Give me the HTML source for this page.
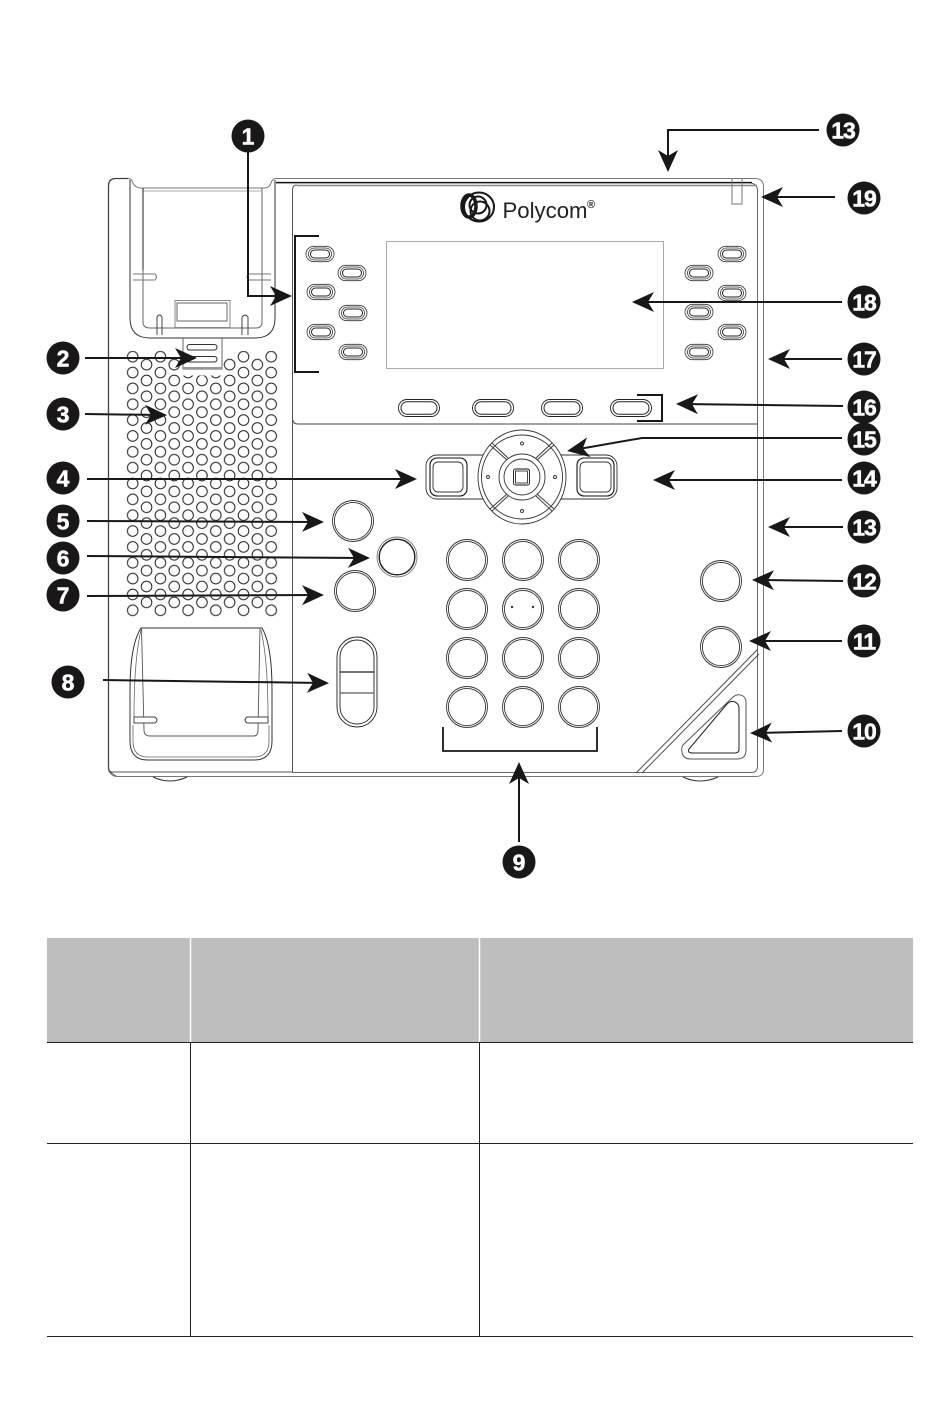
<!DOCTYPE html>
<html><head><meta charset="utf-8"><style>
html,body{margin:0;padding:0;background:#fff}
svg{display:block}
.b{fill:#1a1718}
.t{fill:#fff;font:bold 23px "Liberation Sans",sans-serif;text-anchor:middle;stroke:#fff;stroke-width:.5}
.a{fill:none;stroke:#1a1718;stroke-width:2;marker-end:url(#h)}
</style></head><body>
<svg width="950" height="1419" viewBox="0 0 950 1419" xmlns="http://www.w3.org/2000/svg">
<defs>
<marker id="h" markerUnits="userSpaceOnUse" markerWidth="26" markerHeight="22" refX="16" refY="10" orient="auto"><path d="M22,10 L0,0 L6,10 L0,20 Z" fill="#1a1718"/></marker>
<pattern id="p1" patternUnits="userSpaceOnUse" x="118.85" y="348.775" width="27.7" height="15.85"><circle cx="13.85" cy="7.925" r="5.3" fill="none" stroke="#222" stroke-width="1"/></pattern>
<pattern id="p2" patternUnits="userSpaceOnUse" x="132.7" y="356.7" width="27.7" height="15.85"><circle cx="13.85" cy="7.925" r="5.3" fill="none" stroke="#222" stroke-width="1"/></pattern>
<g id="k" fill="none" stroke="#333" stroke-width=".8"><rect x="-14" y="-7.7" width="28" height="15.4" rx="7.7"/><rect x="-11.5" y="-6" width="23" height="12" rx="6"/><rect x="-9.5" y="-4" width="19" height="8" rx="4" stroke="#222" stroke-width="1"/></g>
<g id="s" fill="none" stroke="#222" stroke-width=".9"><rect x="-20.5" y="-8.5" width="41" height="17" rx="8.5"/><rect x="-18" y="-6.3" width="36" height="12.6" rx="6.3" stroke-width="1"/></g>
<g id="c" fill="none" stroke="#333" stroke-width=".9"><circle r="20.5"/><circle r="18.6"/></g>
</defs>

<!-- speaker grille -->
<rect x="125" y="351" width="153" height="266" fill="url(#p1)"/>
<rect x="140" y="358.5" width="124" height="251" fill="url(#p2)"/>
<rect x="181" y="338" width="42" height="37.5" fill="#fff"/>

<!-- body -->
<g fill="none" stroke="#333" stroke-width="1">
<path d="M108.5,770 V186 Q108.5,178.5 116,178.5 H128 Q131.5,178.5 132.5,182 Q134,187 140,188 H265 Q270,187 271,183 Q272,179 276,178.5 H755 Q763.5,178.5 763.5,187 V769 Q763.5,776.5 756,776.5 H117 Q111,776.5 108.5,770 Z" stroke="#777"/>
<path d="M108.5,770 V186 Q108.5,178.5 116,178.5 H128" stroke-width="1.3" stroke="#444"/>
<path d="M108.5,766 Q108.5,772 112,772 H292 M108.5,771 L116,776" stroke="#555"/>
<path d="M276,183 H749 Q757.5,183 757.5,191 V766 Q757.5,772.5 751,772.5 H292" stroke-width="1" stroke="#666"/>
<path d="M276,182.5 H752" stroke="#111" stroke-width="1.2"/>
<path d="M297,185.5 H757" stroke="#888" stroke-width="1.6"/>
<path d="M292.5,190 Q292.5,185 297,185 M292.5,190 V772" stroke="#555"/>
<path d="M293,420 Q293,424 298,424 H757" stroke="#444"/>
<!-- cradle -->
<path d="M130,180 V318 Q130,338 150,338 H255 Q275,338 275,318 V180"/>
<path d="M143,188 V322 Q143,328 150,328 H256 Q262,328 262,322 V188" stroke="#666"/>
<path d="M143,191 H262" stroke="#aaa"/>
<path d="M143,188 V270 " stroke="#222"/>
<path d="M133,274 H155 Q158,277 155,280 H133" stroke="#777"/>
<path d="M271,274 H249 Q245,277 249,280 H271" stroke="#777"/>
<rect x="175" y="300.5" width="55" height="27" stroke="#888"/>
<rect x="177" y="303" width="50" height="18" stroke="#666"/>
<path d="M157,335 V317 Q159.5,313 162,317 V335 M242,335 V317 Q245,313 248,317 V335" stroke="#444"/>
<!-- tab -->
<path d="M183,338 V369 H222 V338" stroke="#666"/>
<path d="M183,368 H222" stroke="#999" stroke-width="2"/>
<rect x="187" y="344.5" width="30" height="5.5" rx="2.7" stroke="#333"/>
<rect x="187" y="356.5" width="30" height="5.5" rx="2.7" stroke="#333"/>
<!-- lower cradle -->
<path d="M141,628 Q130,645 130,690 V741 Q130,760 148,760 H254 Q272,760 272,741 V690 Q272,645 262,628 Z" stroke="#333"/>
<path d="M134,717 Q134,660 141,630 M133,725 V741 Q133,757 148,757 H254 Q269,757 269,741 V725 M268,717 Q268,660 261,630" stroke="#666" stroke-width=".8"/>
<path d="M141.5,628 L144,730 Q144,736 150,736 H254 Q258,736 258,730 L260,628" stroke="#555" stroke-width=".9"/>
<path d="M134,717 H155 Q159,720 155,723 H134 Z M268,717 H247 Q243,720 247,723 H268 Z" fill="#fff" stroke="#444"/>
<!-- feet -->
<path d="M153,777 Q170,785 187,777 M683,777 Q700,785 718,777" stroke="#333"/>
<!-- LED -->
<path d="M732,179 V204 H742 V179" stroke="#777"/>
<!-- screen -->
<rect x="386.5" y="241.5" width="277" height="127" stroke="#aaa"/>
<!-- diagonal -->
<path d="M636,773 L758,649 M642,773 L759,654" stroke="#444" stroke-width=".9"/>
<path d="M683,745 L733,697 Q738,693 743,696 Q746,698 746,703 V750 Q746,759 737,759 H691 Q683,759 682,752 Q681,748 683,745 Z" stroke="#555"/>
<path d="M689,749 L727,704 Q731,700 735,702 Q739,704 739,708 V749 Q739,753 735,753 H693 Q687,753 689,749 Z" stroke="#222"/>
</g>

<!-- line keys -->
<use href="#k" x="320" y="254"/><use href="#k" x="352" y="273"/><use href="#k" x="321" y="292"/>
<use href="#k" x="353" y="313"/><use href="#k" x="321" y="332"/><use href="#k" x="353" y="352"/>
<use href="#k" x="732" y="254"/><use href="#k" x="699" y="273"/><use href="#k" x="732" y="293"/>
<use href="#k" x="699" y="312"/><use href="#k" x="732" y="332"/><use href="#k" x="699" y="352"/>
<path d="M319,236 H295 V372 H319" fill="none" stroke="#1a1718" stroke-width="2"/>

<!-- soft keys -->
<use href="#s" x="419" y="408"/><use href="#s" x="493" y="408"/><use href="#s" x="562" y="408"/><use href="#s" x="631" y="408"/>
<path d="M637,395 H662 V421 H637" fill="none" stroke="#1a1718" stroke-width="2"/>

<!-- nav cluster -->
<g fill="none" stroke="#333" stroke-width=".9">
<rect x="426" y="455" width="191" height="44" rx="11" fill="#fff"/>
<rect x="430" y="458" width="37" height="38" rx="7" stroke="#111" stroke-width="1.1"/>
<rect x="433" y="462" width="30" height="30" rx="5"/>
<rect x="577" y="458" width="37" height="38" rx="7" stroke="#111" stroke-width="1.1"/>
<rect x="580" y="462" width="31" height="30" rx="5"/>
<ellipse cx="522" cy="477" rx="44" ry="47" fill="#fff"/>
<ellipse cx="522" cy="477" rx="40.5" ry="42"/>
<circle cx="522" cy="477" r="23"/>
<circle cx="522" cy="477" r="18"/>
<path d="M490,445 L507,460 M492,443 L508,458 M554,445 L537,460 M552,443 L536,458 M490,509 L507,494 M492,511 L508,496 M554,509 L537,494 M552,511 L536,496"/>
<rect x="513.5" y="469" width="16" height="16" rx="2" stroke="#111"/>
<rect x="515.5" y="471" width="12" height="12"/>
<circle cx="522" cy="443.5" r="1.5"/><circle cx="522" cy="511" r="1.5"/><circle cx="488" cy="477" r="1.5"/><circle cx="555" cy="477" r="1.5"/>
</g>

<!-- dial pad -->
<use href="#c" x="467" y="560"/><use href="#c" x="523" y="560"/><use href="#c" x="579" y="560"/>
<use href="#c" x="467" y="609"/><use href="#c" x="523" y="609"/><use href="#c" x="579" y="609"/>
<use href="#c" x="467" y="658"/><use href="#c" x="523" y="658"/><use href="#c" x="579" y="658"/>
<use href="#c" x="467" y="707"/><use href="#c" x="523" y="707"/><use href="#c" x="579" y="707"/>
<circle cx="512" cy="607" r="1.2" fill="#333"/><circle cx="533" cy="607" r="1.2" fill="#333"/>
<path d="M443,727 V751 H597 V727" fill="none" stroke="#1a1718" stroke-width="1.8"/>

<!-- side buttons -->
<use href="#c" x="353" y="521"/><use href="#c" x="355" y="591"/>
<use href="#c" x="721" y="581"/><use href="#c" x="721" y="647"/>
<g fill="none" stroke="#222"><circle cx="397" cy="557" r="20" stroke="#777" stroke-width=".9"/><circle cx="397" cy="557" r="17.8" stroke-width="1.4"/>
<rect x="337" y="637" width="40" height="90" rx="20" stroke-width=".9"/><rect x="340" y="640" width="34" height="84" rx="17" stroke-width=".9"/>
<path d="M340,672 H374" stroke-width="1.2"/><path d="M340,693 H374" stroke="#777" stroke-width="1.4"/></g>

<!-- logo -->
<g fill="none" stroke="#1a1718"><ellipse cx="479" cy="207" rx="15" ry="14.5" stroke-width="2"/><ellipse cx="469" cy="206" rx="7" ry="11" stroke-width="3.5"/><circle cx="478" cy="205" r="8.5" stroke-width="2"/><ellipse cx="480" cy="211" rx="9.5" ry="9.5" stroke-width="2"/></g>
<text x="502.5" y="218" font-family="Liberation Sans,sans-serif" font-size="22" fill="#222" textLength="85" lengthAdjust="spacingAndGlyphs">Polycom</text>
<text x="587" y="208" font-family="Liberation Sans,sans-serif" font-size="11" font-weight="bold" fill="#222">®</text>

<!-- arrows -->
<path class="a" d="M248,150 V296 H286"/>
<path class="a" d="M85,358 H191"/>
<path class="a" d="M85,414 L161,415"/>
<path class="a" d="M87,479 H411"/>
<path class="a" d="M87,521 L318,522"/>
<path class="a" d="M87,556 L364,558"/>
<path class="a" d="M87,596 L318,595"/>
<path class="a" d="M103,680 L323,683"/>
<path class="a" d="M519,842 V768"/>
<path class="a" d="M842,731 L756,733"/>
<path class="a" d="M842,641 L755,641"/>
<path class="a" d="M843,581 L758,580"/>
<path class="a" d="M843,527 L774,527"/>
<path class="a" d="M819,130 H668 V166"/>
<path class="a" d="M842,480 H659"/>
<path class="a" d="M842,438 H642 L573,450"/>
<path class="a" d="M843,406 L682,404"/>
<path class="a" d="M842,359 H774"/>
<path class="a" d="M842,302 H638"/>
<path class="a" d="M835,197 H767"/>

<!-- badges -->
<g>
<circle class="b" cx="248" cy="136" r="16.5"/><text class="t" x="248" y="144.5">1</text>
<circle class="b" cx="843" cy="130" r="16.5"/><text class="t" x="843" y="138.5" letter-spacing="-1">13</text>
<circle class="b" cx="864" cy="198" r="16.5"/><text class="t" x="864" y="206.5" letter-spacing="-1">19</text>
<circle class="b" cx="63" cy="358" r="16.5"/><text class="t" x="63" y="366.5">2</text>
<circle class="b" cx="63" cy="414" r="16.5"/><text class="t" x="63" y="422.5">3</text>
<circle class="b" cx="864" cy="302" r="16.5"/><text class="t" x="864" y="310.5" letter-spacing="-1">18</text>
<circle class="b" cx="864" cy="359" r="16.5"/><text class="t" x="864" y="367.5" letter-spacing="-1">17</text>
<circle class="b" cx="864" cy="407" r="16.5"/><text class="t" x="864" y="415.5" letter-spacing="-1">16</text>
<circle class="b" cx="864" cy="439" r="16.5"/><text class="t" x="864" y="447.5" letter-spacing="-1">15</text>
<circle class="b" cx="864" cy="478" r="16.5"/><text class="t" x="864" y="486.5" letter-spacing="-1">14</text>
<circle class="b" cx="63" cy="478" r="16.5"/><text class="t" x="63" y="486.5">4</text>
<circle class="b" cx="63" cy="521" r="16.5"/><text class="t" x="63" y="529.5">5</text>
<circle class="b" cx="63" cy="558" r="16.5"/><text class="t" x="63" y="566.5">6</text>
<circle class="b" cx="63" cy="595" r="16.5"/><text class="t" x="63" y="603.5">7</text>
<circle class="b" cx="68" cy="682" r="16.5"/><text class="t" x="68" y="690.5">8</text>
<circle class="b" cx="864" cy="527" r="16.5"/><text class="t" x="864" y="535.5" letter-spacing="-1">13</text>
<circle class="b" cx="864" cy="581" r="16.5"/><text class="t" x="864" y="589.5" letter-spacing="-1">12</text>
<circle class="b" cx="864" cy="641" r="16.5"/><text class="t" x="864" y="649.5" letter-spacing="-1">11</text>
<circle class="b" cx="864" cy="731" r="16.5"/><text class="t" x="864" y="739.5" letter-spacing="-1">10</text>
<circle class="b" cx="519" cy="862" r="16.5"/><text class="t" x="519" y="870.5">9</text>
</g>

<!-- table -->
<rect x="47" y="938" width="866" height="104" fill="#bebebe"/>
<path d="M190.5,938 V1042 M479.5,938 V1042" stroke="#fff" stroke-width="1.5"/>
<path d="M47,1042.5 H913 M47,1143.5 H913 M47,1336.5 H913 M190.5,1042 V1336 M479.5,1042 V1336" stroke="#222" stroke-width="1" fill="none"/>
</svg>
</body></html>
